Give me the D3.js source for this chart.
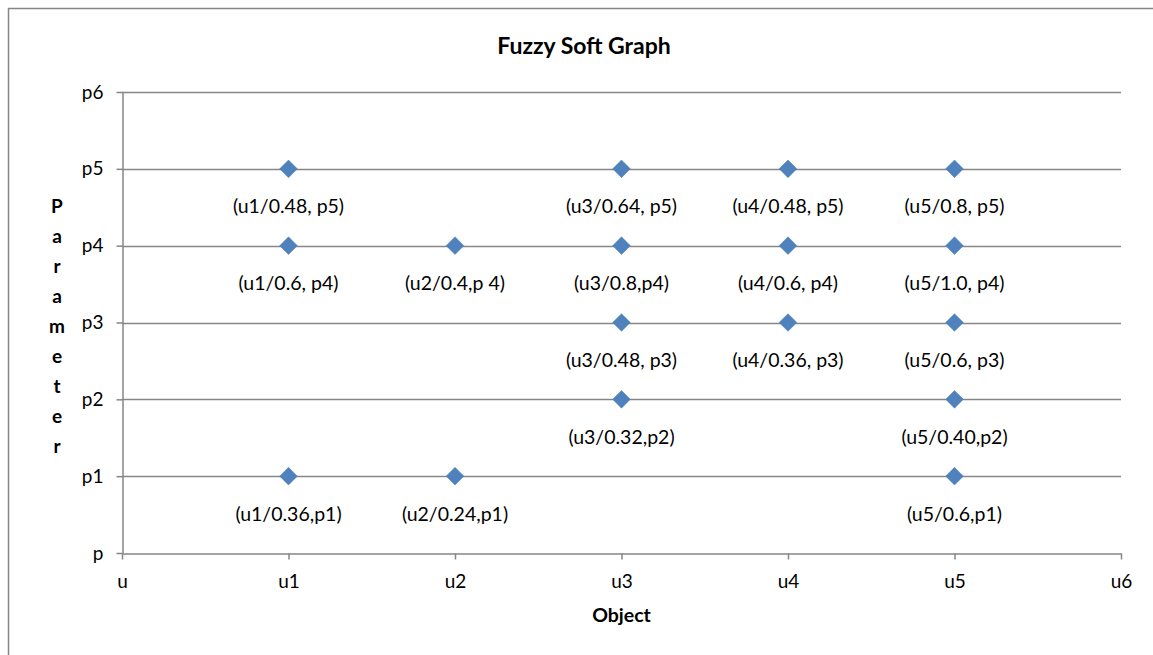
<!DOCTYPE html>
<html>
<head>
<meta charset="utf-8">
<script src="https://cdn.jsdelivr.net/npm/d3@7"></script>
<style>
  html, body { margin: 0; padding: 0; background: #fff; }
  svg { display: block; }
  text { font-family: Lato, "Open Sans", "Liberation Sans", sans-serif; fill: #000; }
</style>
</head>
<body>
<svg id="chart" width="1153" height="655"></svg>
<script>
// Axis categories
const objects = ["u", "u1", "u2", "u3", "u4", "u5", "u6"];
const parameters = ["p", "p1", "p2", "p3", "p4", "p5", "p6"];

// Fuzzy soft graph vertices: object index, parameter index, membership degree
const pointObject = [1, 3, 4, 5, 1, 2, 3, 4, 5, 3, 4, 5, 3, 5, 1, 2, 5];
const pointParam  = [5, 5, 5, 5, 4, 4, 4, 4, 4, 3, 3, 3, 2, 2, 1, 1, 1];
const membership  = [0.48, 0.64, 0.48, 0.8, 0.6, 0.4, 0.8, 0.6, 1.0, 0.48, 0.36, 0.6, 0.32, 0.40, 0.36, 0.24, 0.6];
const pointLabels = [
  "(u1/0.48, p5)", "(u3/0.64, p5)", "(u4/0.48, p5)", "(u5/0.8, p5)",
  "(u1/0.6, p4)", "(u2/0.4,p 4)", "(u3/0.8,p4)", "(u4/0.6, p4)", "(u5/1.0, p4)",
  "(u3/0.48, p3)", "(u4/0.36, p3)", "(u5/0.6, p3)",
  "(u3/0.32,p2)", "(u5/0.40,p2)",
  "(u1/0.36,p1)", "(u2/0.24,p1)", "(u5/0.6,p1)"
];

const points = pointObject.map((o, i) => ({
  o, p: pointParam[i], m: membership[i], label: pointLabels[i]
}));

const svg = d3.select("#chart");
const gray = "#868686";
const fontStack = "Lato, 'Open Sans', sans-serif";

// chart area frame
svg.append("rect")
  .attr("x", 8.5).attr("y", 8.5)
  .attr("width", 1160).attr("height", 660)
  .attr("fill", "#fff").attr("stroke", gray).attr("stroke-width", 1.5);

const x = d3.scaleLinear().domain([0, objects.length - 1]).range([122, 1121]);
const y = d3.scaleLinear().domain([0, parameters.length - 1]).range([553, 92]);

// horizontal gridlines
svg.append("g")
  .selectAll("line")
  .data(d3.range(1, parameters.length))
  .join("line")
  .attr("x1", x(0)).attr("x2", x(objects.length - 1))
  .attr("y1", d => Math.round(y(d)) + 0.5).attr("y2", d => Math.round(y(d)) + 0.5)
  .attr("stroke", gray).attr("stroke-width", 1.5);

// x axis
const xAxis = svg.append("g")
  .attr("transform", `translate(0,${Math.round(y(0)) + 0.5})`)
  .call(d3.axisBottom(x)
    .tickValues(d3.range(objects.length))
    .tickFormat(i => objects[i])
    .tickSize(6).tickSizeOuter(0).tickPadding(15));

// y axis
const yAxis = svg.append("g")
  .attr("transform", `translate(${Math.round(x(0)) + 0.5},0)`)
  .call(d3.axisLeft(y)
    .tickValues(d3.range(parameters.length))
    .tickFormat(i => parameters[i])
    .tickSize(6).tickSizeOuter(0).tickPadding(13));

[xAxis, yAxis].forEach(g => {
  g.select(".domain").attr("stroke", gray).attr("stroke-width", 1.5);
  g.selectAll(".tick line").attr("stroke", gray).attr("stroke-width", 1.5);
  g.selectAll(".tick text")
    .attr("font-size", 19)
    .style("font-family", fontStack)
    .attr("fill", "#000");
});

// diamond markers
const diamond = d3.symbol().type(d3.symbolDiamond2).size(200);
svg.append("g")
  .selectAll("path")
  .data(points)
  .join("path")
  .attr("d", diamond)
  .attr("transform", d => `translate(${x(d.o)},${y(d.p)})`)
  .attr("fill", "#4F81BD")
  .attr("stroke", "#4A7EBB").attr("stroke-width", 0.5);

// data labels below each vertex
svg.append("g")
  .selectAll("text")
  .data(points)
  .join("text")
  .attr("x", d => x(d.o))
  .attr("y", d => y(d.p) + 37)
  .attr("text-anchor", "middle")
  .attr("dominant-baseline", "central")
  .attr("font-size", 19.5)
  .text(d => d.label);

// title
svg.append("text")
  .attr("x", 584).attr("y", 45)
  .attr("text-anchor", "middle").attr("dominant-baseline", "central")
  .attr("font-size", 23).attr("font-weight", "bold")
  .text("Fuzzy Soft Graph");

// x axis title
svg.append("text")
  .attr("x", x(3)).attr("y", 614)
  .attr("text-anchor", "middle").attr("dominant-baseline", "central")
  .attr("font-size", 19.5).attr("font-weight", "bold")
  .text("Object");

// y axis title, letters stacked vertically
const yTitle = "Parameter".split("");
svg.append("g")
  .selectAll("text")
  .data(yTitle)
  .join("text")
  .attr("x", 57)
  .attr("y", (c, i) => 205 + i * 30)
  .attr("text-anchor", "middle").attr("dominant-baseline", "central")
  .attr("font-size", 19).attr("font-weight", "bold")
  .text(c => c);
</script>
</body>
</html>
